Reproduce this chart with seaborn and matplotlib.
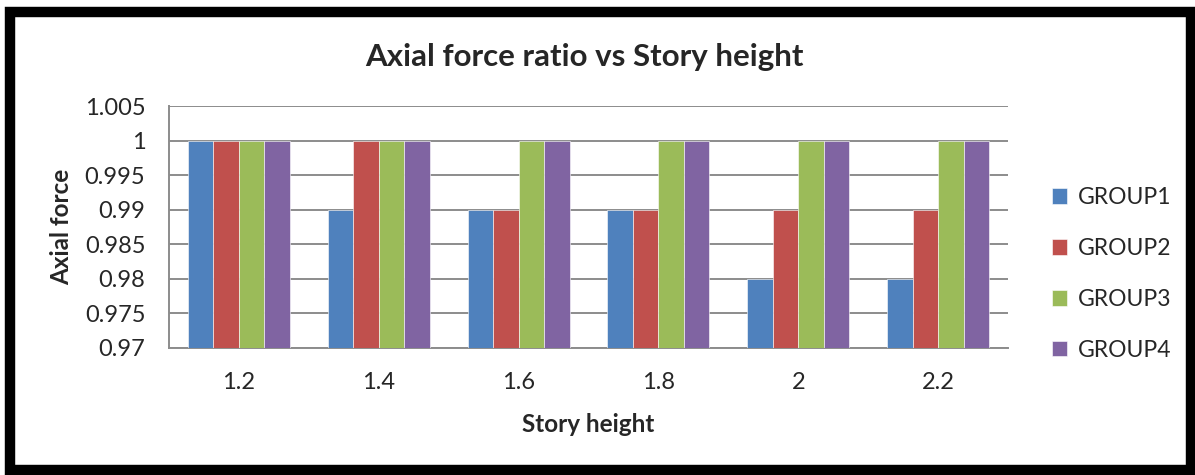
import matplotlib
matplotlib.use("Agg")
import matplotlib.pyplot as plt
import pandas as pd
import seaborn as sns
from matplotlib.patches import Rectangle

# values
heights = ["1.2", "1.4", "1.6", "1.8", "2", "2.2"]
group1 = [1.00, 0.99, 0.99, 0.99, 0.98, 0.98]
group2 = [1.00, 1.00, 0.99, 0.99, 0.99, 0.99]
group3 = [1.00, 1.00, 1.00, 1.00, 1.00, 1.00]
group4 = [1.00, 1.00, 1.00, 1.00, 1.00, 1.00]
groups = ["GROUP1", "GROUP2", "GROUP3", "GROUP4"]
colors = ["#4F81BD", "#C0504D", "#9BBB59", "#8064A2"]

rows = []
for name, vals in zip(groups, [group1, group2, group3, group4]):
    for h, v in zip(heights, vals):
        rows.append({"height": h, "ratio": v, "group": name})
df = pd.DataFrame(rows)

sns.set_style("white")
plt.rcParams["font.family"] = ["Lato", "DejaVu Sans"]

fig = plt.figure(figsize=(11.95, 4.75), dpi=100)
ax = fig.add_axes([0.1414, 0.2674, 0.7021, 0.5094])

sns.barplot(data=df, x="height", y="ratio", hue="group", order=heights,
            hue_order=groups, palette=colors, saturation=1, width=0.73,
            errorbar=None, ax=ax, zorder=3, linewidth=0.4, edgecolor="white")

ax.set_ylim(0.97, 1.005)
ax.set_yticks([0.97, 0.975, 0.98, 0.985, 0.99, 0.995, 1.0, 1.005])
ax.set_yticklabels(["0.97", "0.975", "0.98", "0.985", "0.99", "0.995", "1", "1.005"])
ax.yaxis.grid(True, color="#8c8c8c", linewidth=1.4, zorder=0)
ax.set_axisbelow(True)
for side in ["top", "right"]:
    ax.spines[side].set_visible(False)
for side in ["left", "bottom"]:
    ax.spines[side].set_color("#8c8c8c")
    ax.spines[side].set_linewidth(1.4)
ax.tick_params(axis="y", length=6, width=1.4, color="#8c8c8c", labelsize=17, pad=11)
ax.tick_params(axis="x", length=0, labelsize=17, pad=17)

ax.set_xlabel("Story height", fontsize=17.5, fontweight="bold")
ax.set_ylabel("Axial force", fontsize=17.5, fontweight="bold")
ax.xaxis.set_label_coords(0.5, -0.27)
ax.yaxis.set_label_coords(-0.114, 0.5)
fig.text(584 / 1195, 1 - 57 / 475, "Axial force ratio vs Story height",
         fontsize=22.5, fontweight="bold", ha="center", va="center")

leg = ax.legend(loc="center left", bbox_to_anchor=(1.028, 0.306), frameon=False,
                fontsize=16.5, handlelength=0.66, handleheight=0.66,
                handletextpad=0.45, labelspacing=1.3)

fig.patches.append(Rectangle((10 / 1195, 5 / 475), 1181 / 1195, 458 / 475,
                             transform=fig.transFigure, fill=False,
                             edgecolor="black", linewidth=7.5))

fig.savefig("out.png", dpi=100)
